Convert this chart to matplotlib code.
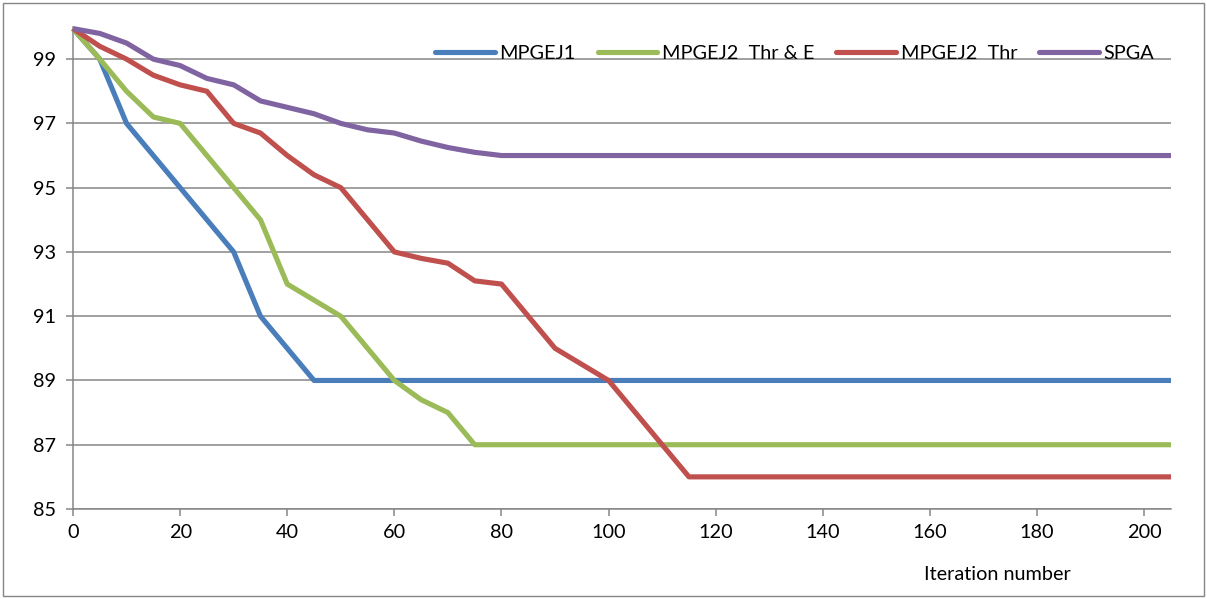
import matplotlib
matplotlib.use("Agg")
import matplotlib.pyplot as plt
from matplotlib.patches import Rectangle

plt.rcParams['font.family'] = ['Lato', 'DejaVu Sans']

# ---- data ----
x_mpgej1 = [0, 5, 10, 15, 20, 25, 30, 35, 40, 45, 205]
y_mpgej1 = [99.95, 99.0, 97.0, 96.0, 95.0, 94.0, 93.0, 91.0, 90.0, 89.0, 89.0]

x_thr_e = [0, 5, 10, 15, 20, 25, 30, 35, 40, 45, 50, 55, 60, 65, 70, 75, 205]
y_thr_e = [99.95, 99.0, 98.0, 97.2, 97.0, 96.0, 95.0, 94.0, 92.0, 91.5, 91.0,
           90.0, 89.0, 88.4, 88.0, 87.0, 87.0]

x_thr = [0, 5, 10, 15, 20, 25, 30, 35, 40, 45, 50, 60, 65, 70, 75, 80, 90,
         100, 115, 205]
y_thr = [99.95, 99.4, 99.0, 98.5, 98.2, 98.0, 97.0, 96.7, 96.0, 95.4, 95.0,
         93.0, 92.8, 92.65, 92.1, 92.0, 90.0, 89.0, 86.0, 86.0]

x_spga = [0, 5, 10, 15, 20, 25, 30, 35, 40, 45, 50, 55, 60, 65, 70, 75, 80, 205]
y_spga = [99.95, 99.8, 99.5, 99.0, 98.8, 98.4, 98.2, 97.7, 97.5, 97.3, 97.0,
          96.8, 96.7, 96.45, 96.25, 96.1, 96.0, 96.0]

series_labels = ["MPGEJ1", "MPGEJ2  Thr & E", "MPGEJ2  Thr", "SPGA"]
series_colors = ["#4A7EBB", "#9BBB59", "#C0504D", "#8064A2"]

x_ticks = [0, 20, 40, 60, 80, 100, 120, 140, 160, 180, 200]
y_ticks = [85, 87, 89, 91, 93, 95, 97, 99]
x_label = "Iteration number"

# ---- figure ----
W, H = 1207, 599
FS = 14.3
fig = plt.figure(figsize=(W / 100, H / 100), dpi=100)
ax = fig.add_axes([73 / W, (H - 509) / H, (1171 - 73) / W, (509 - 27) / H])

grid_c = "#868686"
for xs, ys, lab, col in zip([x_mpgej1, x_thr_e, x_thr, x_spga],
                            [y_mpgej1, y_thr_e, y_thr, y_spga],
                            series_labels, series_colors):
    ax.plot(xs, ys, color=col, lw=3.7, label=lab, solid_joinstyle='round',
            solid_capstyle='butt', zorder=3, clip_on=False)

ax.set_xlim(0, 205)
ax.set_ylim(85, 100)
ax.set_xticks(x_ticks)
ax.set_yticks(y_ticks)
ax.yaxis.grid(True, color=grid_c, lw=1.1)
ax.set_axisbelow(True)
for s in ["top", "right"]:
    ax.spines[s].set_visible(False)
for s in ["left", "bottom"]:
    ax.spines[s].set_color(grid_c)
    ax.spines[s].set_linewidth(1.1)
ax.tick_params(axis='both', colors=grid_c, labelcolor='black', labelsize=FS,
               length=5, width=1.1, direction='out')
ax.tick_params(axis='x', pad=6)
ax.tick_params(axis='y', pad=7)

ax.text(0.842, -0.135, x_label, transform=ax.transAxes, ha='center', va='center',
        fontsize=FS)

leg = ax.legend(loc='center right', bbox_to_anchor=(0.985, 0.946), ncol=4,
                frameon=False, fontsize=FS, handlelength=3.0, handletextpad=0.25,
                columnspacing=1.1, borderaxespad=0, borderpad=0)
for h in leg.get_lines():
    h.set_solid_capstyle('round')
    h.set_linewidth(3.7)

fig.patches.append(Rectangle((3 / W, 3 / H), (W - 6) / W, (H - 6) / H,
                             transform=fig.transFigure, fill=False,
                             edgecolor=grid_c, lw=1.0))

fig.savefig("out.png", dpi=100)
